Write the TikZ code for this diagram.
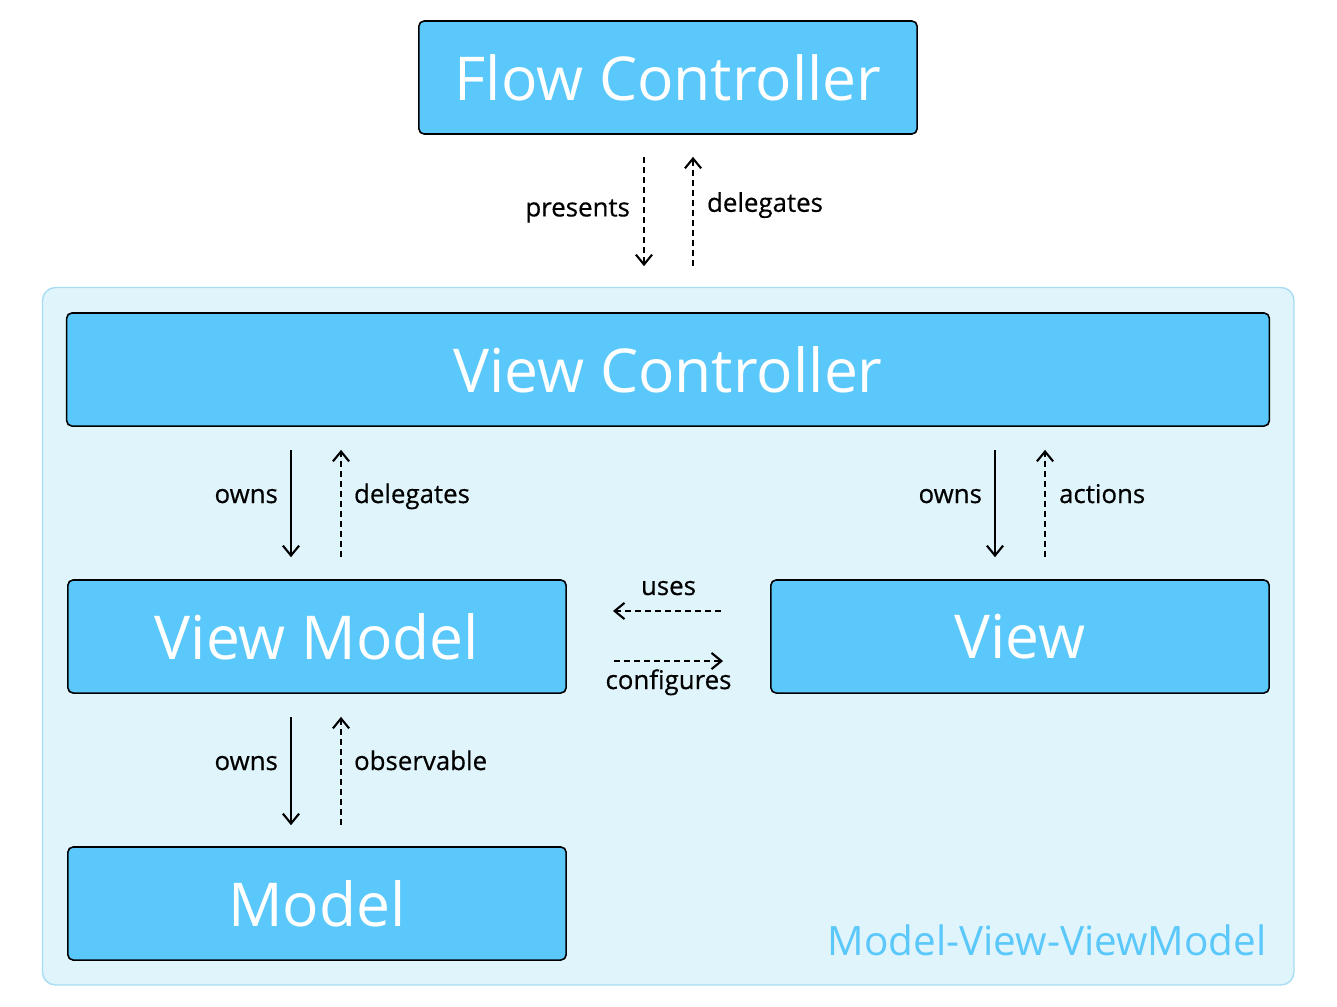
\documentclass[tikz,border=0pt]{standalone}
\usepackage{fontspec}
\setmainfont{Open Sans}
\newfontfamily\lblfont[FakeBold=0.5]{Open Sans}
\usepackage{xcolor}
\usetikzlibrary{arrows.meta}

\definecolor{boxblue}{HTML}{5AC8FA}
\definecolor{areafill}{HTML}{E0F4FC}
\definecolor{arealine}{HTML}{A8DDF4}

\begin{document}
\begin{tikzpicture}[x=0.01cm, y=-0.01cm,
    box/.style={draw, line width=0.45pt, fill=boxblue, rounded corners=1.5pt, text=white,
        minimum height=1.13cm, font=\fontsize{17.2}{20}\selectfont},
    lbl/.style={draw=none, font=\lblfont\fontsize{7.35}{9}\selectfont, inner sep=0pt},
    own/.style={line width=0.6pt, -{Straight Barb[length=2.8pt, width=4.6pt]}},
    weak/.style={own, dash pattern=on 1.75pt off 1.1pt}]
    \useasboundingbox (0,0) rectangle (1337,1006);

    % outer area
    \draw[arealine, fill=areafill, line width=0.4pt, rounded corners=3.7pt] (42.5,287.5) rectangle (1294,985);
    \node[anchor=base east, text=boxblue, font=\fontsize{11.5}{14}\selectfont, inner sep=0pt] (MVVM) at (1267,955) {Model-View-ViewModel};

    \node[box, minimum width=4.98cm] (FC) at (668,77.5) {Flow Controller};
    \node[box, minimum width=12.02cm] (VC) at (668,369.5) {View Controller};
    \node[box, minimum width=4.98cm] (VM) at (317,636.5) {View Model};
    \node[box, minimum width=4.98cm] (V) at (1020,636.5) {View};
    \node[box, minimum width=4.98cm] (M) at (317,903.5) {Model};

    \draw[weak, shorten <=0.22cm, shorten >=0.46cm] ([xshift=-0.24cm]FC.south) -- ([xshift=-0.24cm]VC.north)
        node[lbl, pos=0.46, anchor=base east, xshift=-0.13cm] (presents) {presents};
    \draw[weak, shorten <=0.46cm, shorten >=0.22cm] ([xshift=0.25cm]VC.north) -- ([xshift=0.25cm]FC.south)
        node[lbl, pos=0.566, anchor=base west, xshift=0.13cm] (deleg1) {delegates};

    \draw[own, shorten <=0.23cm, shorten >=0.22cm] ([xshift=-0.26cm]VC.south -| VM.north) -- ([xshift=-0.26cm]VM.north)
        node[lbl, midway, anchor=base east, xshift=-0.12cm] (owns1) {owns};
    \draw[weak, shorten <=0.22cm, shorten >=0.23cm] ([xshift=0.24cm]VM.north) -- ([xshift=0.24cm]VC.south -| VM.north)
        node[lbl, midway, anchor=base west, xshift=0.12cm] (deleg2) {delegates};

    \draw[own, shorten <=0.23cm, shorten >=0.22cm] ([xshift=-0.25cm]VC.south -| V.north) -- ([xshift=-0.25cm]V.north)
        node[lbl, midway, anchor=base east, xshift=-0.12cm] (owns2) {owns};
    \draw[weak, shorten <=0.22cm, shorten >=0.23cm] ([xshift=0.25cm]V.north) -- ([xshift=0.25cm]VC.south -| V.north)
        node[lbl, midway, anchor=base west, xshift=0.13cm] (actions) {actions};

    \draw[own, shorten <=0.23cm, shorten >=0.21cm] ([xshift=-0.26cm]VM.south) -- ([xshift=-0.26cm]M.north)
        node[lbl, midway, anchor=base east, xshift=-0.12cm] (owns3) {owns};
    \draw[weak, shorten <=0.21cm, shorten >=0.23cm] ([xshift=0.24cm]M.north) -- ([xshift=0.24cm]VM.south)
        node[lbl, midway, anchor=base west, xshift=0.12cm] (observable) {observable};

    \draw[weak, shorten <=0.49cm, shorten >=0.46cm] ([yshift=0.255cm]V.west) -- ([yshift=0.255cm]VM.east)
        node[lbl, midway, anchor=base, yshift=0.16cm] (uses) {uses};
    \draw[weak, shorten <=0.47cm, shorten >=0.47cm] ([yshift=-0.245cm]VM.east) -- ([yshift=-0.245cm]V.west)
        node[lbl, midway, anchor=base, yshift=-0.28cm] (configures) {configures};
\end{tikzpicture}
\end{document}
